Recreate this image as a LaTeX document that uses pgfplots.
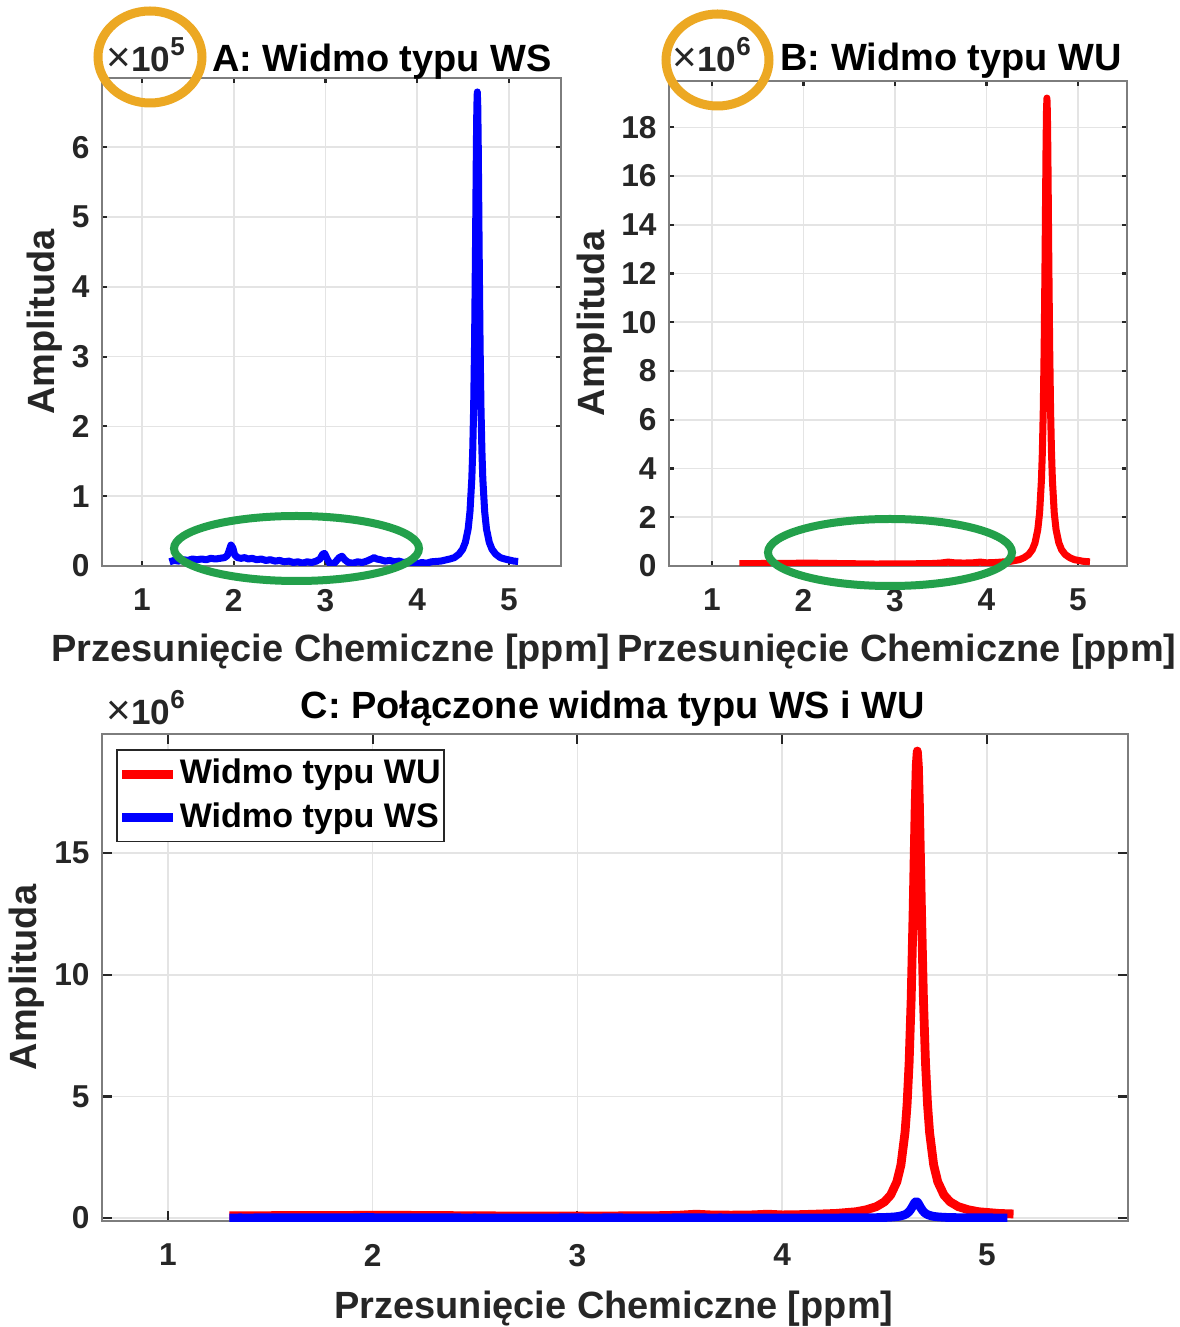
\documentclass[border=0pt]{standalone}
\usepackage{fontspec}
\setmainfont{Liberation Sans}
\usepackage{pgfplots}
\usepackage{pgfplotstable}
\pgfplotsset{compat=1.18}
\definecolor{mgray}{RGB}{38,38,38}
\definecolor{boxgray}{RGB}{125,125,125}
\definecolor{gridgray}{RGB}{228,228,228}
\definecolor{wsblue}{RGB}{0,0,255}
\definecolor{wured}{RGB}{255,0,0}
\definecolor{annorange}{RGB}{236,168,35}
\definecolor{anngreen}{RGB}{35,160,75}

% WS spectrum, amplitude in units of 1e5
\pgfplotstableread{
x y
1.30 0.06
1.35 0.08
1.40 0.07
1.45 0.09
1.50 0.08
1.55 0.10
1.60 0.09
1.65 0.10
1.70 0.09
1.75 0.11
1.80 0.10
1.85 0.11
1.90 0.12
1.93 0.15
1.95 0.22
1.97 0.30
1.99 0.26
2.01 0.16
2.04 0.12
2.08 0.11
2.12 0.12
2.16 0.10
2.20 0.11
2.25 0.09
2.30 0.10
2.35 0.08
2.40 0.09
2.45 0.07
2.50 0.08
2.55 0.06
2.60 0.07
2.65 0.05
2.70 0.06
2.75 0.04
2.80 0.06
2.85 0.05
2.90 0.07
2.94 0.10
2.97 0.17
2.99 0.18
3.02 0.10
3.05 0.03
3.08 0.02
3.11 0.06
3.15 0.12
3.18 0.14
3.21 0.09
3.25 0.05
3.30 0.04
3.35 0.06
3.40 0.05
3.45 0.07
3.50 0.10
3.53 0.12
3.56 0.10
3.60 0.09
3.65 0.07
3.70 0.08
3.75 0.06
3.80 0.07
3.85 0.05
3.90 0.06
3.95 0.04
4.00 0.03
4.05 0.05
4.10 0.04
4.155 0.06
4.255 0.07
4.355 0.10
4.405 0.12
4.455 0.17
4.495 0.24
4.525 0.34
4.555 0.53
4.575 0.78
4.595 1.25
4.605 1.65
4.615 2.26
4.625 3.18
4.635 4.51
4.640 5.28
4.645 6.03
4.650 6.58
4.655 6.79
4.660 6.58
4.665 6.03
4.670 5.28
4.675 4.51
4.685 3.18
4.695 2.26
4.705 1.65
4.715 1.25
4.735 0.78
4.755 0.53
4.785 0.34
4.815 0.24
4.855 0.17
4.905 0.12
4.955 0.10
5.055 0.07
5.100 0.065
}\wsdata

% WU spectrum, amplitude in units of 1e6
\pgfplotstableread{
x y
1.30 0.10
1.50 0.10
1.70 0.11
1.90 0.11
2.00 0.12
2.20 0.11
2.40 0.10
2.60 0.09
2.80 0.08
3.00 0.09
3.20 0.09
3.40 0.10
3.50 0.12
3.58 0.16
3.65 0.13
3.75 0.12
3.85 0.13
3.93 0.16
4.00 0.13
4.08 0.14
4.16 0.16
4.26 0.19
4.36 0.26
4.41 0.34
4.46 0.47
4.50 0.67
4.53 0.95
4.56 1.49
4.58 2.18
4.60 3.52
4.61 4.66
4.62 6.38
4.63 8.99
4.64 12.75
4.645 14.94
4.65 17.04
4.655 18.61
4.66 19.20
4.665 18.61
4.67 17.04
4.675 14.94
4.68 12.75
4.69 8.99
4.70 6.38
4.71 4.66
4.72 3.52
4.74 2.18
4.76 1.49
4.79 0.95
4.82 0.67
4.86 0.47
4.91 0.34
4.96 0.26
5.06 0.19
5.13 0.17
}\wudata

\pgfplotsset{
  mstyle/.style={
    scale only axis,
    axis line style={boxgray, line width=0.6pt},
    grid=major,
    major grid style={gridgray, line width=0.45pt},
    tick style={mgray, line width=0.6pt},
    tick align=inside,
    xtick={1,2,3,4,5},
    /pgf/number format/assume math mode=true,
    tick label style={font=\bfseries\fontsize{9}{10}\selectfont, text=mgray},
    xticklabel style={yshift=-3pt},
    label style={font=\bfseries\fontsize{10.8}{12}\selectfont, text=mgray},
    title style={font=\bfseries\fontsize{10.8}{12}\selectfont, text=black, anchor=base},
    xlabel={Przesunięcie Chemiczne [ppm]},
    ylabel={Amplituda},
  },
}

\newcommand{\scalelab}[1]{{\fontsize{12}{12}\selectfont ×}\textbf{10}\raisebox{4.6pt}{\fontsize{7.4}{8}\selectfont\textbf{#1}}}

\begin{document}
\begin{tikzpicture}
\path[use as bounding box] (0,0) rectangle (11.80,13.27);

% ---------- A ----------
\begin{axis}[mstyle,
  at={(1.02cm,7.61cm)}, anchor=south west,
  width=4.59cm, height=4.88cm,
  xmin=0.564, xmax=5.567, ymin=0, ymax=6.99,
  ytick={0,1,2,3,4,5,6},
  major tick length=0.05cm,
  title={A: Widmo typu WS},
  title style={at={(axis description cs:0.61,1)}, yshift=-4.2pt},
  xlabel style={at={(axis description cs:0.499,-0.195)}, anchor=base},
  ylabel style={at={(axis description cs:-0.124,0.5)}, anchor=center},
]
\addplot[wsblue, line width=2pt, line join=round] table[x=x,y=y] {\wsdata};
\end{axis}

% ---------- B ----------
\begin{axis}[mstyle,
  at={(6.69cm,7.61cm)}, anchor=south west,
  width=4.58cm, height=4.85cm,
  xmin=0.53, xmax=5.535, ymin=0, ymax=19.9,
  ytick={0,2,4,6,8,10,12,14,16,18},
  major tick length=0.05cm,
  title={B: Widmo typu WU},
  title style={at={(axis description cs:0.616,1)}, yshift=-3pt},
  xlabel style={at={(axis description cs:0.498,-0.196)}, anchor=base},
  ylabel style={at={(axis description cs:-0.162,0.5)}, anchor=center},
]
\addplot[wured, line width=2pt, line join=round] table[x=x,y=y] {\wudata};
\end{axis}

% ---------- C ----------
\begin{axis}[mstyle,
  at={(1.02cm,1.06cm)}, anchor=south west,
  width=10.26cm, height=4.87cm,
  xmin=0.678, xmax=5.689, ymin=-0.12, ymax=19.9,
  ytick={0,5,10,15},
  major tick length=0.1cm,
  title={C: Połączone widma typu WS i WU},
  title style={at={(axis description cs:0.498,1)}, yshift=-1.6pt},
  xlabel style={at={(axis description cs:0.499,-0.2)}, anchor=base},
  ylabel style={at={(axis description cs:-0.073,0.5)}, anchor=center},
  legend cell align=left,
  legend image code/.code={\draw[#1, line width=2.5pt] (0cm,0cm) -- (0.51cm,0cm);},
  legend style={at={(axis description cs:0.0136,0.969)}, anchor=north west,
    draw=mgray, line width=0.5pt, fill=white,
    font=\bfseries\fontsize{9.7}{11}\selectfont, text=black,
    inner xsep=0.3pt, inner ysep=2pt, row sep=2.6pt,
    nodes={inner sep=0.6pt, anchor=west}},
]
\addplot[wured, line width=2.5pt, line join=round] table[x=x,y=y] {\wudata};
\addlegendentry{Widmo typu WU}
\addplot[wsblue, line width=2.5pt, line join=round] table[x=x,y expr=\thisrow{y}/10] {\wsdata};
\addlegendentry{Widmo typu WS}
\end{axis}

% scale factors
\node[anchor=base west, inner sep=0, text=mgray, font=\fontsize{10}{11}\selectfont] at (1.06,12.55) {\scalelab{5}};
\node[anchor=base west, inner sep=0, text=mgray, font=\fontsize{10}{11}\selectfont] at (6.72,12.55) {\scalelab{6}};
\node[anchor=base west, inner sep=0, text=mgray, font=\fontsize{10}{11}\selectfont] at (1.06,6.02) {\scalelab{6}};

% annotations
\draw[annorange, line width=0.09cm] (1.50,12.70) ellipse [x radius=0.52, y radius=0.46];
\draw[annorange, line width=0.09cm] (7.175,12.67) ellipse [x radius=0.515, y radius=0.46];
\draw[anngreen, line width=0.08cm] (2.965,7.785) ellipse [x radius=1.225, y radius=0.325];
\draw[anngreen, line width=0.08cm] (8.90,7.745) ellipse [x radius=1.22, y radius=0.335];
\end{tikzpicture}
\end{document}
